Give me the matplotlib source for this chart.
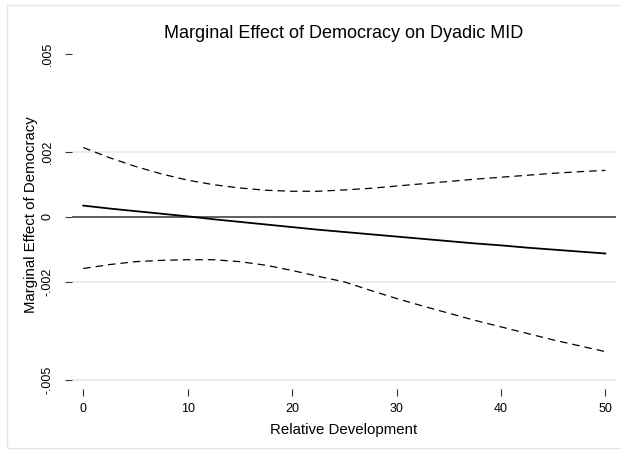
import numpy as np
import matplotlib
matplotlib.use('Agg')
import matplotlib.pyplot as plt
from matplotlib.patches import Rectangle

plt.rcParams['font.family'] = ['Liberation Sans', 'DejaVu Sans']

# relative development
rel_dev = [0, 2.5, 5, 7.5, 10, 12.5, 15, 17.5, 20, 22.5, 25,
           27.5, 30, 32.5, 35, 37.5, 40, 42.5, 45, 47.5, 50]
# marginal effect (x 1e-3)
effect = [0.35, 0.26, 0.18, 0.10, 0.02, -0.07, -0.15, -0.23, -0.31, -0.39, -0.46,
          -0.53, -0.60, -0.67, -0.74, -0.81, -0.87, -0.94, -1.00, -1.06, -1.12]
upper = [2.13, 1.82, 1.55, 1.32, 1.13, 0.99, 0.89, 0.82, 0.79, 0.79, 0.83,
         0.88, 0.95, 1.02, 1.09, 1.16, 1.22, 1.28, 1.34, 1.39, 1.43]
lower = [-1.58, -1.46, -1.37, -1.33, -1.31, -1.31, -1.37, -1.48, -1.64, -1.82, -1.99,
         -2.25, -2.50, -2.73, -2.95, -3.17, -3.37, -3.57, -3.77, -3.95, -4.13]

yticks = [-0.005, -0.002, 0, 0.002, 0.005]
ytick_labels = ['-.005', '-.002', '0', '.002', '.005']
xticks = [0, 10, 20, 30, 40, 50]

W, H = 621, 450
fig = plt.figure(figsize=(W / 100, H / 100), dpi=100)
fig.patch.set_facecolor('white')
fig.patches.append(Rectangle((6.5 / W, 2 / H), 630 / W, 443 / H, transform=fig.transFigure,
                             fill=False, edgecolor='#e6e6e6', linewidth=1))

left, right, bottom, top = 72, 616, 389, 41
ax = fig.add_axes([left / W, 1 - bottom / H, (right - left) / W, (bottom - top) / H])

x = np.array(rel_dev)
ax.plot(x, np.array(upper) * 1e-3, color='black', lw=0.9, dashes=(6, 4))
ax.plot(x, np.array(lower) * 1e-3, color='black', lw=0.9, dashes=(6, 4))
ax.plot(x, np.array(effect) * 1e-3, color='black', lw=1.3)
ax.axhline(0, color='#333333', lw=1.1, zorder=1)
for g in [-0.005, -0.002, 0.002]:
    ax.axhline(g, color='#e8e8e8', lw=1.1, zorder=0)

ax.set_xlim(-1.08, 51.02)
ax.set_ylim(-(bottom - 217) / 32600, (217 - top) / 32600)
ax.set_xticks(xticks)
ax.set_xticklabels([str(v) for v in xticks])
ax.set_yticks(yticks)
ax.set_yticklabels(ytick_labels, rotation=90, va='center')
for s in ax.spines.values():
    s.set_visible(False)
ax.tick_params(axis='both', direction='out', length=5, width=0.8, color='#333333',
               labelsize=9)
ax.tick_params(axis='x', pad=5)
ax.tick_params(axis='y', pad=8)

ax.set_xlabel('Relative Development', fontsize=10.8, labelpad=6)
ax.set_ylabel('Marginal Effect of Democracy', fontsize=10.8, labelpad=2.5)
fig.text(344 / W, 1 - 38 / H, 'Marginal Effect of Democracy on Dyadic MID',
         fontsize=13, ha='center', va='baseline')

fig.savefig('out.png', dpi=100)
